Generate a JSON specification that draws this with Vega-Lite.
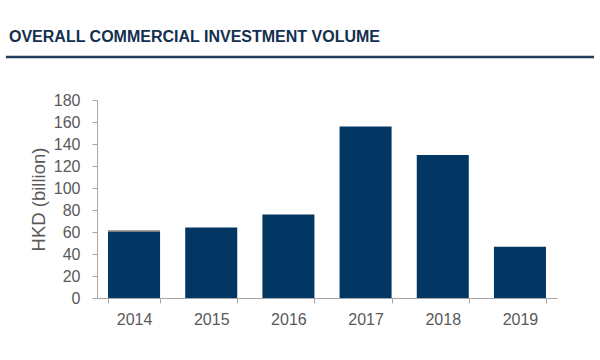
{
  "$schema": "https://vega.github.io/schema/vega-lite/v6.json",
  "width": 460,
  "height": 198,
  "autosize": "none",
  "padding": {"left": 97, "top": 100, "right": 43, "bottom": 62},
  "background": "white",
  "title": {
    "text": "OVERALL COMMERCIAL INVESTMENT VOLUME",
    "anchor": "start",
    "frame": "group",
    "dx": -88,
    "offset": 11,
    "fontSize": 16,
    "font": "Liberation Sans",
    "fontWeight": "bold",
    "color": "#13304f"
  },
  "config": {
    "view": {"stroke": null},
    "axis": {
      "domainColor": "#a6a6a6",
      "tickColor": "#a6a6a6",
      "labelColor": "#595959",
      "labelFont": "Liberation Sans",
      "labelFontSize": 16,
      "titleFont": "Liberation Sans",
      "titleFontSize": 16,
      "titleColor": "#595959",
      "titleFontWeight": "normal",
      "grid": false,
      "tickSize": 5
    }
  },
  "layer": [
    {
      "data": {
        "values": [
          {"year": "2014", "series": "main", "value": 60, "order": 1},
          {"year": "2014", "series": "other", "value": 1.5, "order": 2},
          {"year": "2015", "series": "main", "value": 64, "order": 1},
          {"year": "2016", "series": "main", "value": 76, "order": 1},
          {"year": "2017", "series": "main", "value": 156, "order": 1},
          {"year": "2018", "series": "main", "value": 130, "order": 1},
          {"year": "2019", "series": "main", "value": 46.5, "order": 1}
        ]
      },
      "mark": {"type": "bar"},
      "encoding": {
        "x": {
          "field": "year",
          "type": "ordinal",
          "scale": {"paddingInner": 0.326, "paddingOuter": 0.143},
          "axis": {"title": null, "labelAngle": 0, "tickBand": "extent", "labelPadding": 8}
        },
        "y": {
          "field": "value",
          "type": "quantitative",
          "stack": "zero",
          "scale": {"domain": [0, 180], "nice": false},
          "axis": {
            "title": "HKD (billion)",
            "titleFontSize": 18.5,
            "values": [0, 20, 40, 60, 80, 100, 120, 140, 160, 180],
            "labelPadding": 12,
            "titlePadding": 5
          }
        },
        "color": {
          "field": "series",
          "type": "nominal",
          "scale": {"domain": ["main", "other"], "range": ["#023764", "#7f7f7f"]},
          "legend": null
        },
        "order": {"field": "order", "type": "quantitative"}
      }
    },
    {
      "data": {"values": [{"x1": -0.198, "x2": 1.0804, "y": 1.2172}]},
      "mark": {"type": "rule", "color": "#1f3a5a", "strokeWidth": 2.5},
      "encoding": {
        "x": {"field": "x1", "type": "quantitative", "scale": {"domain": [0, 1], "nice": false, "zero": false}, "axis": null},
        "x2": {"field": "x2"},
        "y": {"field": "y", "type": "quantitative", "scale": {"domain": [0, 1], "nice": false, "zero": false}, "axis": null}
      }
    }
  ],
  "resolve": {"scale": {"x": "independent", "y": "independent"}, "axis": {"x": "independent", "y": "independent"}}
}
